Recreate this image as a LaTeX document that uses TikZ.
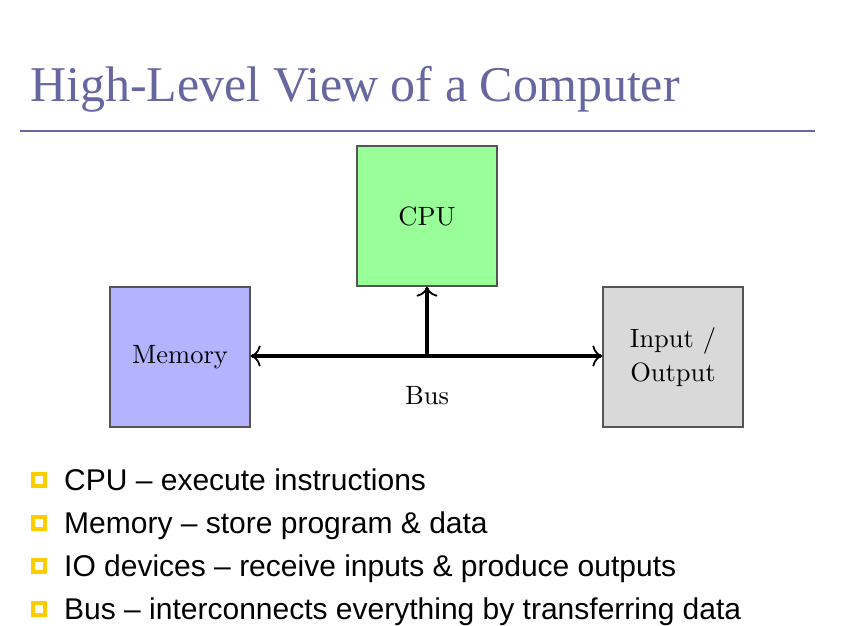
\documentclass[tikz,border=0pt]{standalone}
\usepackage{fontspec}
\setmainfont{lmroman10-regular}[Extension=.otf]
\newfontfamily\titlefont{Liberation Serif}
\newfontfamily\bodyfont{Liberation Sans}
\usetikzlibrary{arrows.meta}
\definecolor{titleblue}{HTML}{6666A0}
\definecolor{bulletyellow}{HTML}{FFCC00}
\definecolor{cpugreen}{HTML}{99FF99}
\definecolor{memblue}{HTML}{B3B3FF}
\definecolor{iogray}{HTML}{D9D9D9}
\definecolor{edgegray}{HTML}{555555}
\tikzset{
  bustip/.tip={To[length=10pt,width=21pt,line width=1.8pt]},
  unitbox/.style={draw=edgegray, line width=1.2pt, minimum width=140pt, minimum height=140pt,
    inner sep=0pt, align=center, font=\fontsize{26.5}{34}\selectfont},
  busline/.style={line width=4pt},
  bulletsq/.style={draw=bulletyellow, line width=3.8pt, minimum size=12pt, inner sep=0pt, outer sep=0pt},
  bullettext/.style={anchor=base west, inner sep=0pt, font=\bodyfont\fontsize{30}{36}\selectfont},
}
\begin{document}
\begin{tikzpicture}[x=1pt,y=-1pt]
\useasboundingbox (0,0) rectangle (856,625);
\fill[white] (0,0) rectangle (856,625);

% heading and rule
\node[anchor=base west, inner sep=0pt, text=titleblue, font=\titlefont\fontsize{50}{56}\selectfont]
  (title) at (30,101) {High-Level View of a Computer};
\draw[titleblue, line width=2pt] (20,131) coordinate (ruleL) -- (815,131) coordinate (ruleR);

% units
\node[unitbox, fill=cpugreen] (cpu) at (427,216) {CPU};
\node[unitbox, fill=memblue] (mem) at (180,357) {Memory};
\node[unitbox, fill=iogray] (io) at (673,357) {Input /\\Output};

% bus
\coordinate (tap) at (427,356);
\draw[busline, bustip-bustip] (mem.east |- tap) -- (io.west |- tap);
\draw[busline, -bustip] (tap) -- (cpu.south);
\node[font=\fontsize{26.5}{32}\selectfont, anchor=base] (bus) at (427,404) {Bus};

% bullet list
\foreach \y/\t [count=\i] in {490/{CPU – execute instructions},
                   533/{Memory – store program \& data},
                   576/{IO devices – receive inputs \& produce outputs},
                   619/{Bus – interconnects everything by transferring data}} {
  \node[bulletsq] (sq\i) at (39,\y-10) {};
  \node[bullettext] (item\i) at (64,\y) {\t};
}
\end{tikzpicture}
\end{document}
